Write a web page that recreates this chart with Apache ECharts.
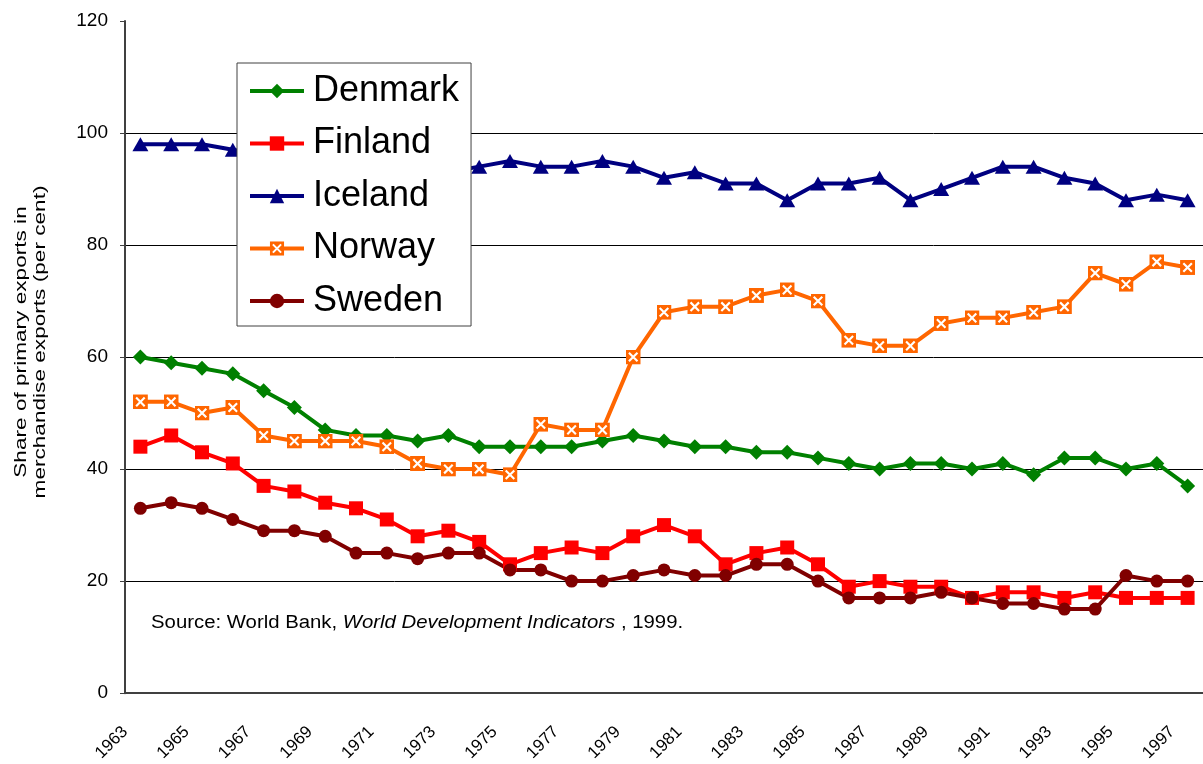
<!DOCTYPE html>
<html>
<head>
<meta charset="utf-8">
<script src="https://cdn.jsdelivr.net/npm/echarts@6/dist/echarts.min.js"></script>
<style>
  html, body { margin: 0; padding: 0; background: #fff; }
  #chart { width: 1203px; height: 764px; }
</style>
</head>
<body>
<div id="chart"></div>
<script>
// categories (one point per year)
var years = ['1963','1964','1965','1966','1967','1968','1969','1970','1971','1972',
  '1973','1974','1975','1976','1977','1978','1979','1980','1981','1982',
  '1983','1984','1985','1986','1987','1988','1989','1990','1991','1992',
  '1993','1994','1995','1996','1997'];
// tick labels sit on the boundaries between years, every other one shown
var yearTicks = years.concat(['']);

var denmark = [60,59,58,57,54,51,47,46,46,45,46,44,44,44,44,45,46,45,44,44,43,43,42,41,40,41,41,40,41,39,42,42,40,41,37];
var finland = [44,46,43,41,37,36,34,33,31,28,29,27,23,25,26,25,28,30,28,23,25,26,23,19,20,19,19,17,18,18,17,18,17,17,17];
var iceland = [98,98,98,97,96,95,95,94,94,94,93,94,95,94,94,95,94,92,93,91,91,88,91,91,92,88,90,92,94,94,92,91,88,89,88];
var norway  = [52,52,50,51,46,45,45,45,44,41,40,40,39,48,47,47,60,68,69,69,71,72,70,63,62,62,66,67,67,68,69,75,73,77,76];
var sweden  = [33,34,33,31,29,29,28,25,25,24,25,25,22,22,20,20,21,22,21,21,23,23,20,17,17,17,18,17,16,16,15,15,21,20,20];

var FONT = 'Arial, "Liberation Sans", sans-serif';

// orange square with a white cross
var norwaySvg = "<svg xmlns='http://www.w3.org/2000/svg' width='28' height='28' viewBox='0 0 14 14'>" +
  "<rect width='14' height='14' fill='#FF6600'/>" +
  "<path d='M3 3L11 11M11 3L3 11' stroke='#ffffff' stroke-width='2'/></svg>";
var norwaySymbol = 'image://data:image/svg+xml;charset=utf-8,' + encodeURIComponent(norwaySvg);

function lineSeries(name, values, color, symbol, size) {
  return {
    name: name,
    type: 'line',
    data: values,
    symbol: symbol,
    symbolSize: size,
    lineStyle: { color: color, width: 4 },
    itemStyle: { color: color },
    emphasis: { disabled: true }
  };
}

var chart = echarts.init(document.getElementById('chart'));
chart.setOption({
  animation: false,
  backgroundColor: '#fff',
  textStyle: { fontFamily: FONT },
  grid: { left: 125, right: 0, top: 21, bottom: 70 },
  legend: {
    orient: 'vertical',
    left: 237,
    top: 63,
    padding: [9, 12, 6, 11],
    itemWidth: 54,
    itemHeight: 18,
    itemGap: 14.5,
    backgroundColor: '#fff',
    borderColor: '#404040',
    borderWidth: 1,
    lineStyle: { width: 4 },
    textStyle: { fontSize: 36, lineHeight: 38, color: '#000', fontFamily: FONT, padding: [0, 0, 0, 4] },
    data: ['Denmark', 'Finland', 'Iceland', 'Norway', 'Sweden']
  },
  xAxis: [
    {
      type: 'category',
      data: years,
      boundaryGap: true,
      axisLine: { lineStyle: { color: '#404040', width: 2 } },
      axisTick: { interval: 0, length: 7, lineStyle: { color: '#606060' } },
      axisLabel: { show: false },
      splitLine: { show: false }
    },
    {
      type: 'category',
      data: yearTicks,
      boundaryGap: false,
      position: 'bottom',
      axisLine: { show: false },
      axisTick: { show: false },
      splitLine: { show: false },
      axisLabel: { interval: 1, rotate: 45, margin: 36, fontSize: 17, color: '#000', fontFamily: FONT }
    }
  ],
  yAxis: {
    type: 'value',
    min: 0,
    max: 120,
    interval: 20,
    axisLine: { show: true, lineStyle: { color: '#404040', width: 2 } },
    axisTick: { show: true, length: 5, lineStyle: { color: '#404040' } },
    axisLabel: { fontSize: 19, margin: 17, color: '#000', fontFamily: FONT },
    splitLine: { show: true, showMaxLine: false, showMinLine: false, lineStyle: { color: '#000', width: 1 } }
  },
  graphic: [
    {
      // y axis title, drawn stretched along its length like the original
      type: 'text',
      x: 31,
      y: 342,
      rotation: Math.PI / 2,
      scaleX: 1.33,
      style: {
        text: 'Share of primary exports in\nmerchandise exports (per cent)',
        fontSize: 17,
        lineHeight: 19,
        fontFamily: FONT,
        fill: '#000',
        align: 'center',
        verticalAlign: 'middle'
      }
    },
    {
      type: 'text',
      x: 151,
      y: 623,
      scaleX: 1.13,
      style: {
        text: '{n|Source: World Bank, }{i|World Development Indicators}{n| , 1999.}',
        align: 'left',
        verticalAlign: 'middle',
        rich: {
          n: { fontSize: 18, fontFamily: FONT, fill: '#000' },
          i: { fontSize: 18, fontFamily: FONT, fontStyle: 'italic', fill: '#000' }
        }
      }
    }
  ],
  series: [
    lineSeries('Denmark', denmark, '#008000', 'diamond', [15, 15]),
    lineSeries('Finland', finland, '#FF0000', 'rect', [14, 14]),
    lineSeries('Iceland', iceland, '#000080', 'triangle', [16, 14]),
    lineSeries('Norway', norway, '#FF6600', norwaySymbol, [15, 15]),
    lineSeries('Sweden', sweden, '#800000', 'circle', 13)
  ]
});
</script>
</body>
</html>
